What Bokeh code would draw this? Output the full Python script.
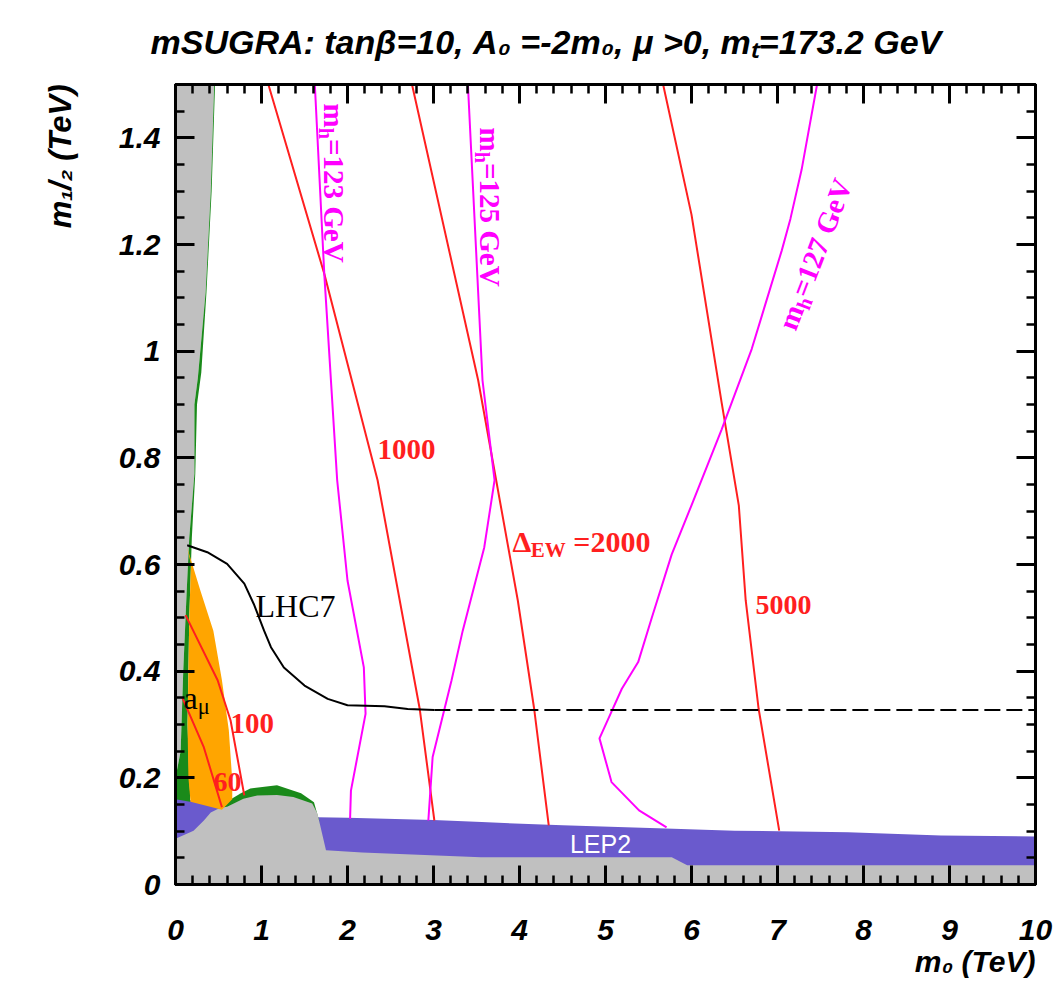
import math
from bokeh.plotting import figure
from bokeh.models import Label, LinearAxis, FixedTicker, CustomJSTickFormatter, Title
from bokeh.embed import file_html
from bokeh.resources import INLINE

# ---------------- data (TeV) ----------------
x_ticks = [0, 1, 2, 3, 4, 5, 6, 7, 8, 9, 10]
x_tick_labels = ["0", "1", "2", "3", "4", "5", "6", "7", "8", "9", "10"]
y_ticks = [0, 0.2, 0.4, 0.6, 0.8, 1.0, 1.2, 1.4]
y_tick_labels = ["0", "0.2", "0.4", "0.6", "0.8", "1", "1.2", "1.4"]

# theoretically excluded (grey): strip edge at small m0, then bottom edge
gray_strip_x = [0.45, 0.41, 0.35, 0.26, 0.22, 0.22, 0.16, 0.13, 0.09, 0.06, 0.0]
gray_strip_y = [1.50, 1.30, 1.11, 0.95, 0.90, 0.77, 0.65, 0.55, 0.40, 0.25, 0.20]
gray_bot_x = [0.0, 0.21, 0.33, 0.41, 0.52, 0.60, 0.79, 0.95, 1.18, 1.37, 1.59, 1.65, 1.75, 2.17, 3.55, 5.77, 5.95, 10.0]
gray_bot_y = [0.086, 0.101, 0.120, 0.135, 0.144, 0.146, 0.161, 0.167, 0.168, 0.164, 0.152, 0.133, 0.064, 0.060, 0.051, 0.051, 0.036, 0.036]

# LEP2 excluded (blue) upper edge
lep2_x = [0.0, 0.3, 0.55, 1.0, 1.65, 2.0, 3.0, 3.56, 4.5, 5.7, 6.5, 7.82, 8.9, 10.0]
lep2_y = [0.162, 0.155, 0.145, 0.14, 0.126, 0.125, 0.121, 0.117, 0.111, 0.105, 0.101, 0.098, 0.092, 0.090]

# WMAP-allowed (green): cap over the grey bump, band along the grey strip
green_cap_x = [0.50, 0.56, 0.76, 0.87, 1.18, 1.46, 1.61, 1.67]
green_cap_y = [0.145, 0.152, 0.171, 0.180, 0.186, 0.171, 0.154, 0.120]
green_band_x = [0.46, 0.42, 0.36, 0.30, 0.25, 0.23, 0.19, 0.18, 0.16, 0.15, 0.14, 0.16, 0.17, 0.17]
green_band_y = [1.50, 1.30, 1.11, 0.96, 0.90, 0.77, 0.65, 0.60, 0.50, 0.40, 0.30, 0.20, 0.17, 0.155]

# a_mu favoured (orange)
amu_x = [0.136, 0.29, 0.44, 0.54, 0.62, 0.66, 0.66, 0.54, 0.175, 0.15, 0.14, 0.15, 0.16, 0.18]
amu_y = [0.632, 0.551, 0.476, 0.383, 0.289, 0.195, 0.160, 0.140, 0.155, 0.20, 0.30, 0.40, 0.50, 0.60]

# Delta_EW contours (red)
dew60_x = [0.078, 0.33, 0.54]
dew60_y = [0.351, 0.257, 0.145]
dew100_x = [0.117, 0.49, 0.64, 0.80]
dew100_y = [0.505, 0.383, 0.308, 0.167]
dew1000_x = [1.08, 1.73, 2.35, 2.84, 3.01]
dew1000_y = [1.50, 1.145, 0.758, 0.329, 0.120]
dew2000_x = [2.75, 3.52, 3.98, 4.17, 4.34]
dew2000_y = [1.50, 0.945, 0.533, 0.330, 0.111]
dew5000_x = [5.67, 6.00, 6.35, 6.55, 6.63, 6.78, 7.02]
dew5000_y = [1.50, 1.256, 0.904, 0.711, 0.533, 0.330, 0.101]

# m_h contours (magenta)
mh123_x = [1.62, 1.73, 1.88, 2.00, 2.19, 2.21, 2.04, 2.03]
mh123_y = [1.50, 1.145, 0.758, 0.570, 0.407, 0.320, 0.176, 0.123]
mh125_x = [3.40, 3.57, 3.71, 3.59, 3.34, 3.21, 2.99, 2.94]
mh125_y = [1.50, 0.945, 0.758, 0.632, 0.476, 0.383, 0.239, 0.120]
mh127_x = [7.46, 7.28, 7.15, 7.05, 6.70, 6.35, 6.00, 5.77, 5.54, 5.38, 5.19, 5.07, 4.93, 5.07, 5.39, 5.71]
mh127_y = [1.50, 1.340, 1.248, 1.189, 1.004, 0.853, 0.711, 0.619, 0.501, 0.417, 0.367, 0.324, 0.274, 0.192, 0.139, 0.107]

# LHC7 reach (black), solid then dashed
lhc7_x = [0.136, 0.37, 0.60, 0.80, 0.91, 1.03, 1.11, 1.26, 1.50, 1.77, 2.00, 2.43, 2.70, 3.01]
lhc7_y = [0.636, 0.623, 0.601, 0.564, 0.526, 0.476, 0.445, 0.407, 0.373, 0.348, 0.336, 0.334, 0.329, 0.327]
lhc7_dash_x = [3.01, 10.0]
lhc7_dash_y = [0.327, 0.327]

title_text = "mSUGRA: tanβ=10, A₀ =-2m₀, μ >0, mₜ=173.2 GeV"
xlabel_text = "m₀ (TeV)"
ylabel_text = "m₁/₂ (TeV)"

# ---------------- layout ----------------
W, H = 1057, 991
FL, FR, FT, FB = 175, 1035, 84, 884
XMAX, YMAX = 10.0, 1.5

def X(px):
    return (px - FL) / (FR - FL) * XMAX

def Y(py):
    return (FB - py) / (FB - FT) * YMAX

p = figure(width=W, height=H, x_range=(0, XMAX), y_range=(0, YMAX),
           output_backend="svg", toolbar_location=None,
           min_border_left=FL, min_border_right=W - FR,
           min_border_top=FT, min_border_bottom=H - FB)
p.xgrid.visible = False
p.ygrid.visible = False
p.background_fill_color = "white"
p.border_fill_color = "white"
p.outline_line_color = "black"
p.outline_line_width = 3

RED = "#ff1f1f"
MAG = "#ff00ff"
GRAY = "#c0c0c0"
BLUE = "#6a5acd"
GREEN = "#1a8a1a"
ORANGE = "#ffa500"

# blue band
p.patch(lep2_x + [10.0, 0.0], lep2_y + [0.0, 0.0], fill_color=BLUE, line_color=None)
# green cap (lower part hidden by grey)
p.patch(green_cap_x + [green_cap_x[-1], green_cap_x[0]], green_cap_y + [0.10, 0.10],
        fill_color=GREEN, line_color=None)
# grey
gx = [0.0] + gray_strip_x + gray_bot_x + [10.0, 0.0]
gy = [YMAX] + gray_strip_y + gray_bot_y + [0.0, 0.0]
p.patch(gx, gy, fill_color=GRAY, line_color=None)
# green band along the strip
bx = green_band_x + [0.0] + gray_strip_x[::-1]
by = green_band_y + [0.16] + gray_strip_y[::-1]
p.patch(bx, by, fill_color=GREEN, line_color=None)
# orange
p.patch(amu_x, amu_y, fill_color=ORANGE, line_color=None)

for xs, ys in [(dew60_x, dew60_y), (dew100_x, dew100_y), (dew1000_x, dew1000_y),
               (dew2000_x, dew2000_y), (dew5000_x, dew5000_y)]:
    p.line(xs, ys, line_color=RED, line_width=2)
for xs, ys in [(mh123_x, mh123_y), (mh125_x, mh125_y), (mh127_x, mh127_y)]:
    p.line(xs, ys, line_color=MAG, line_width=2)
p.line(lhc7_x, lhc7_y, line_color="black", line_width=2)
p.line(lhc7_dash_x, lhc7_dash_y, line_color="black", line_width=2, line_dash="16 6")

# ---------------- axes ----------------
xt = FixedTicker(ticks=x_ticks, minor_ticks=[round(i * 0.2, 2) for i in range(51)])
yt = FixedTicker(ticks=y_ticks, minor_ticks=[round(i * 0.05, 2) for i in range(31)])

def style_axis(ax):
    ax.major_tick_in = 19
    ax.major_tick_out = 0
    ax.minor_tick_in = 9
    ax.minor_tick_out = 0
    ax.axis_line_width = 3
    ax.major_tick_line_width = 3
    ax.minor_tick_line_width = 2.5
    ax.major_label_text_font = "Liberation Sans"
    ax.major_label_text_font_style = "bold italic"
    ax.major_label_text_font_size = "30px"
    ax.major_label_text_color = "black"

xa = p.xaxis[0]
xa.ticker = xt
xa.major_label_overrides = {t: s for t, s in zip(x_ticks, x_tick_labels)}
style_axis(xa)
xa.major_label_standoff = 35

ya = p.yaxis[0]
ya.ticker = yt
ya.major_label_overrides = {t: s for t, s in zip(y_ticks, y_tick_labels)}
style_axis(ya)
ya.major_label_standoff = 15

blank = CustomJSTickFormatter(code="return ''")
top = LinearAxis(ticker=xt, formatter=blank)
style_axis(top)
p.add_layout(top, "above")
right = LinearAxis(ticker=yt, formatter=blank)
style_axis(right)
p.add_layout(right, "right")

# ---------------- titles ----------------
p.title.text = title_text
p.title.text_font = "Liberation Sans"
p.title.text_font_style = "bold italic"
p.title.text_font_size = "34px"
p.title.text_color = "black"
p.title.align = "left"
p.title.offset = -25
p.title.vertical_align = "top"
p.title.standoff = 44

xl = Title(text=xlabel_text, align="right", text_font="Liberation Sans",
           text_font_style="bold italic", text_font_size="30px", text_color="black",
           standoff=0)
p.add_layout(xl, "below")

yl = Title(text=ylabel_text, align="right", vertical_align="bottom",
           text_font="Liberation Sans", text_font_style="bold italic",
           text_font_size="31px", text_color="black", standoff=76)
p.add_layout(yl, "left")

# ---------------- in-plot labels ----------------
SERIF_B = {' ': 250, '\u00a0': 250, '=': 570, 'G': 778, 'e': 444, 'V': 722, 'm': 833, 'h': 556,
           'Δ': 612, 'E': 667, 'W': 1000}
SERIF_R = {'a': 444, 'μ': 500, 'L': 611, 'H': 722, 'C': 667}

def tw(s, table):
    return sum(table.get(c, 500) for c in s)

def rich(segs, px, py, size, font, style, color, table, angle_deg=0.0,
         sub_scale=0.7, sub_drop=0.27):
    a = math.radians(angle_deg)
    ux, uy = math.cos(a), -math.sin(a)
    nx, ny = math.sin(a), math.cos(a)
    pos = 0.0
    for t, sub in segs:
        s = size * sub_scale if sub else size
        off = size * sub_drop if sub else 0.0
        sx = px + ux * pos + nx * off
        sy = py + uy * pos + ny * off
        p.add_layout(Label(x=X(sx), y=Y(sy), text=t, text_font=font, text_font_style=style,
                           text_font_size=f"{s:.1f}px", text_color=color, angle=a,
                           text_align="left", text_baseline="alphabetic"))
        pos += tw(t, table) * s / 1000

SER = "Liberation Serif"
NB = "\u00a0"
rich([("m", False), ("h", True), ("=123" + NB + "GeV", False)], 333, 103, 29, SER, "bold", MAG, SERIF_B, angle_deg=-90)
rich([("m", False), ("h", True), ("=125" + NB + "GeV", False)], 489, 127, 29, SER, "bold", MAG, SERIF_B, angle_deg=-90)
rich([("m", False), ("h", True), ("=127" + NB + "GeV", False)], 786, 328, 29, SER, "bold", MAG, SERIF_B, angle_deg=69)

rich([("1000", False)], 377, 449, 29, SER, "bold", RED, SERIF_B)
rich([("Δ", False), ("EW", True), (NB + "=2000", False)], 512, 541, 30, SER, "bold", RED, SERIF_B)
rich([("5000", False)], 755, 604, 28, SER, "bold", RED, SERIF_B)
rich([("100", False)], 230, 723, 29, SER, "bold", RED, SERIF_B)
rich([("60", False)], 213, 781, 28, SER, "bold", RED, SERIF_B)

rich([("LHC7", False)], 255, 605, 32, SER, "normal", "black", SERIF_R)
rich([("a", False), ("μ", True)], 183, 697, 32, SER, "normal", "black", SERIF_R)

p.add_layout(Label(x=X(600), y=Y(843), text="LEP2", text_font="Liberation Sans",
                   text_font_size="25px", text_color="white", text_align="center",
                   text_baseline="middle"))

open("out.html", "w").write(file_html(p, INLINE))
